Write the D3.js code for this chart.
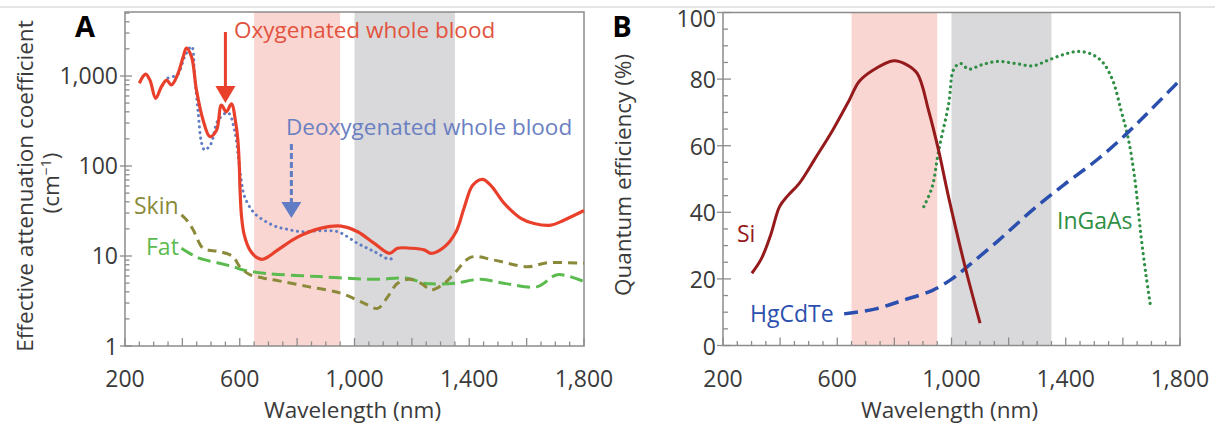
<!DOCTYPE html>
<html><head><meta charset="utf-8">
<script src="https://cdn.jsdelivr.net/npm/d3@7"></script>
<style>
body{margin:0;background:#fff;}
svg{display:block;font-family:"Open Sans",sans-serif;}
</style></head>
<body><svg id="c" width="1215" height="430"></svg>
<script>
// ---------- DATA ----------
const xTicks = [200, 600, 1000, 1400, 1800];
const xTickLabels = ["200", "600", "1,000", "1,400", "1,800"];
const yTicksA = [1, 10, 100, 1000];
const yTickLabelsA = ["1", "10", "100", "1,000"];
const yTicksB = [0, 20, 40, 60, 80, 100];
const bandPink = [650, 950];
const bandGray = [1000, 1350];

const oxygenatedBlood = [[250,830],[262,980],[272,1050],[287,900],[307,565],[327,760],[345,900],[362,795],[385,1070],[402,1600],[414,2040],[432,1630],[449,700],[472,325],[496,212],[519,250],[536,475],[553,400],[571,490],[586,300],[593,200],[598,110],[601,55],[606,28],[615,17.5],[635,11.7],[660,9.6],[681,9.2],[733,11.7],[803,16.3],[884,20.4],[953,21.5],[1011,18.6],[1069,13.8],[1122,10.7],[1150,12.2],[1197,12.2],[1243,11.7],[1267,10.7],[1313,12.6],[1354,18.6],[1383,35],[1412,61],[1446,71],[1475,61],[1522,38.5],[1580,26.2],[1626,23],[1684,22],[1730,25],[1800,32]];
const deoxygenatedBlood = [[350,950],[368,985],[385,1050],[410,1700],[432,2130],[443,980],[455,390],[467,180],[478,150],[490,160],[501,180],[525,325],[559,390],[582,250],[597,110],[605,70],[617,45.6],[652,29.7],[722,21.5],[760,20],[814,18.6],[884,19.1],[942,18.6],[1011,13.8],[1069,11.2],[1122,9.2],[1135,9.6]];
const skin = [[397,28.6],[420,24],[438,19.4],[472,12.2],[500,11.5],[530,11.2],[577,9.8],[600,7.6],[635,6.2],[680,5.7],[722,5.4],[838,4.57],[953,3.85],[1034,2.98],[1081,2.62],[1116,3.53],[1150,4.97],[1191,5.5],[1232,4.97],[1267,4.2],[1313,4.97],[1348,6.4],[1406,9.7],[1487,9.0],[1603,7.6],[1672,8.4],[1800,8.3]];
const fat = [[397,12.2],[430,10.5],[461,9.4],[530,8.3],[577,7.6],[612,7.0],[693,6.4],[878,5.9],[1069,5.5],[1185,5.65],[1243,4.97],[1278,4.9],[1348,4.97],[1440,5.5],[1533,4.9],[1638,4.57],[1707,6.2],[1800,5.2]];

const silicon = [[301,21.7],[334,26],[368,33.5],[398,41.7],[427,45],[467,48.7],[525,56.5],[583,64.5],[641,73.5],[676,79.2],[722,82.5],[798,85.5],[839,84.5],[880,81.7],[920,70.5],[955,58.5],[990,44.5],[1048,23.5],[1100,6.7]];
const hgcdte = [[624,9.5],[735,11],[827,13.5],[932,16.5],[1002,20],[1060,24],[1164,31.5],[1281,40.5],[1397,48.5],[1513,56],[1618,64],[1700,71],[1798,79.5]];
const ingaas = [[903,41.7],[932,47.5],[955,58.5],[990,72.5],[1008,83],[1031,84.7],[1060,83],[1106,84.3],[1159,85.3],[1223,84.7],[1286,84],[1339,85.7],[1397,87.5],[1443,88.3],[1490,87.5],[1530,85],[1565,79.5],[1594,70.5],[1618,62.5],[1641,50.5],[1664,32.5],[1682,20.5],[1697,11.7]];

// ---------- LAYOUT ----------
const svg = d3.select("#c");
const textCol = "#3a3a3a", frameCol = "#8c8c8c";
const tickFont = 23;
const labelFont = 22.5;

svg.append("line").attr("x1",0).attr("x2",1215).attr("y1",7).attr("y2",7).attr("stroke","#dcdcdc").attr("stroke-width",1.5);

function panel(cfg){
  const g = svg.append("g");
  const x = d3.scaleLinear().domain([200,1800]).range([cfg.left, cfg.right]);
  const y = cfg.y;
  const [top,bottom] = [cfg.top, cfg.bottom];
  g.append("rect").attr("x",x(bandPink[0])).attr("width",x(bandPink[1])-x(bandPink[0])).attr("y",top).attr("height",bottom-top).attr("fill","#fad6d2");
  g.append("rect").attr("x",x(bandGray[0])).attr("width",x(bandGray[1])-x(bandGray[0])).attr("y",top).attr("height",bottom-top).attr("fill","#d9d8da");
  const minor = d3.range(200,1801,50);
  g.selectAll(".xt").data(minor).join("line")
    .attr("x1",d=>x(d)).attr("x2",d=>x(d)).attr("y1",bottom)
    .attr("y2",d=> d%200===0 ? bottom-8 : bottom-4.5)
    .attr("stroke",frameCol).attr("stroke-width",1.3);
  g.selectAll(".xl").data(xTicks).join("text")
    .attr("x",d=>x(d)).attr("y",387).attr("text-anchor","middle")
    .attr("font-size",tickFont).attr("fill",textCol).text((d,i)=>xTickLabels[i]);
  g.append("text").attr("x",(cfg.left+cfg.right)/2-2).attr("y",418).attr("text-anchor","middle")
    .attr("font-size",labelFont).attr("fill",textCol).text("Wavelength (nm)");
  g.append("rect").attr("x",cfg.left).attr("y",top).attr("width",cfg.right-cfg.left).attr("height",bottom-top)
    .attr("fill","none").attr("stroke",frameCol).attr("stroke-width",1.5);
  return {g,x,y};
}

// Panel A
const yA = d3.scaleLog().domain([1,5140]).range([346,12]);
const A = panel({left:125,right:584,top:12,bottom:346,y:yA});
{
  const {g,x,y} = A;
  const minorY = [];
  [1,10,100,1000].forEach(p=>{ for(let k=2;k<=9;k++){ if(p*k<5140) minorY.push(p*k);} });
  g.selectAll(".ym").data(minorY).join("line").attr("x1",125).attr("x2",129.5)
    .attr("y1",d=>y(d)).attr("y2",d=>y(d)).attr("stroke",frameCol).attr("stroke-width",1.3);
  g.selectAll(".yM").data(yTicksA).join("line").attr("x1",120).attr("x2",132)
    .attr("y1",d=>y(d)).attr("y2",d=>y(d)).attr("stroke",frameCol).attr("stroke-width",1.3);
  g.selectAll(".yl").data(yTicksA).join("text").attr("x",118).attr("y",d=>y(d)+8.5)
    .attr("text-anchor","end").attr("font-size",tickFont).attr("fill",textCol).text((d,i)=>yTickLabelsA[i]);

  const line = d3.line().x(d=>x(d[0])).y(d=>y(d[1])).curve(d3.curveCatmullRom.alpha(0.5));
  g.append("path").attr("d",line(fat)).attr("fill","none").attr("stroke","#5cbb4f").attr("stroke-width",3).attr("stroke-dasharray","13,6");
  g.append("path").attr("d",line(skin)).attr("fill","none").attr("stroke","#8a8a3a").attr("stroke-width",3).attr("stroke-dasharray","9,6");
  g.append("path").attr("d",line(deoxygenatedBlood)).attr("fill","none").attr("stroke","#5f7cc4").attr("stroke-width",3).attr("stroke-linecap","round").attr("stroke-dasharray","0.1,5.5");
  g.append("path").attr("d",line(oxygenatedBlood)).attr("fill","none").attr("stroke","#e9402b").attr("stroke-width",3.2);

  g.append("text").attr("x",234).attr("y",38).attr("font-size",labelFont).attr("fill","#e2533d").text("Oxygenated whole blood");
  g.append("line").attr("x1",x(550)).attr("x2",x(550)).attr("y1",32).attr("y2",90).attr("stroke","#e9402b").attr("stroke-width",3);
  g.append("path").attr("d",`M${x(550)-10},86 L${x(550)+10},86 L${x(550)},103 Z`).attr("fill","#e9402b");
  g.append("text").attr("x",286).attr("y",135).attr("font-size",labelFont).attr("fill","#6b80c2").text("Deoxygenated whole blood");
  g.append("line").attr("x1",x(780)).attr("x2",x(780)).attr("y1",144).attr("y2",203).attr("stroke","#5f7cc4").attr("stroke-width",3).attr("stroke-dasharray","6,3");
  g.append("path").attr("d",`M${x(780)-10},202 L${x(780)+10},202 L${x(780)},218 Z`).attr("fill","#5f7cc4");
  g.append("text").attr("x",134).attr("y",214).attr("font-size",23).attr("fill","#8a8a3a").text("Skin");
  g.append("text").attr("x",146).attr("y",255).attr("font-size",23).attr("fill","#5cbb4f").text("Fat");

  svg.append("text").attr("x",85).attr("y",37).attr("text-anchor","middle").attr("font-size",29).attr("font-weight","bold").attr("fill","#000").text("A");
  svg.append("text").attr("transform","translate(33,186) rotate(-90)").attr("text-anchor","middle").attr("font-size",labelFont).attr("fill",textCol).text("Effective attenuation coefficient");
  const cm = svg.append("text").attr("transform","translate(59,183) rotate(-90)").attr("text-anchor","middle").attr("font-size",labelFont).attr("fill",textCol);
  cm.append("tspan").text("(cm");
  cm.append("tspan").attr("dy",-8).attr("font-size",14).text("−1");
  cm.append("tspan").attr("dy",8).text(")");
}

// Panel B
const yB = d3.scaleLinear().domain([0,100]).range([345.5,12.5]);
const B = panel({left:723,right:1180,top:12.5,bottom:345.5,y:yB});
{
  const {g,x,y} = B;
  const minorY = d3.range(0,101,5);
  g.selectAll(".ym").data(minorY).join("line")
    .attr("x1",d=> d%20===0 ? 717 : 723).attr("x2",d=> d%20===0 ? 731 : 728)
    .attr("y1",d=>y(d)).attr("y2",d=>y(d)).attr("stroke",frameCol).attr("stroke-width",1.3);
  g.selectAll(".yl").data(yTicksB).join("text").attr("x",716).attr("y",d=>Math.max(y(d)+9,27))
    .attr("text-anchor","end").attr("font-size",tickFont).attr("fill",textCol).text(d=>d);

  const line = d3.line().x(d=>x(d[0])).y(d=>y(d[1])).curve(d3.curveCatmullRom.alpha(0.5));
  g.append("path").attr("d",line(ingaas)).attr("fill","none").attr("stroke","#2f8f45").attr("stroke-width",3.2).attr("stroke-linecap","round").attr("stroke-dasharray","0.1,5.5");
  g.append("path").attr("d",line(hgcdte)).attr("fill","none").attr("stroke","#2b4fae").attr("stroke-width",3.5).attr("stroke-dasharray","14,7");
  g.append("path").attr("d",line(silicon)).attr("fill","none").attr("stroke","#951a1c").attr("stroke-width",3);

  g.append("text").attr("x",737).attr("y",242).attr("font-size",23).attr("fill","#951a1c").text("Si");
  g.append("text").attr("x",750).attr("y",322).attr("font-size",23).attr("fill","#2b4fae").text("HgCdTe");
  g.append("text").attr("x",1057).attr("y",229).attr("font-size",23).attr("fill","#2f8f45").text("InGaAs");

  svg.append("text").attr("x",622).attr("y",37).attr("text-anchor","middle").attr("font-size",29).attr("font-weight","bold").attr("fill","#000").text("B");
  svg.append("text").attr("transform","translate(631,175) rotate(-90)").attr("text-anchor","middle").attr("font-size",labelFont).attr("fill",textCol).text("Quantum efficiency (%)");
}
</script></body></html>
